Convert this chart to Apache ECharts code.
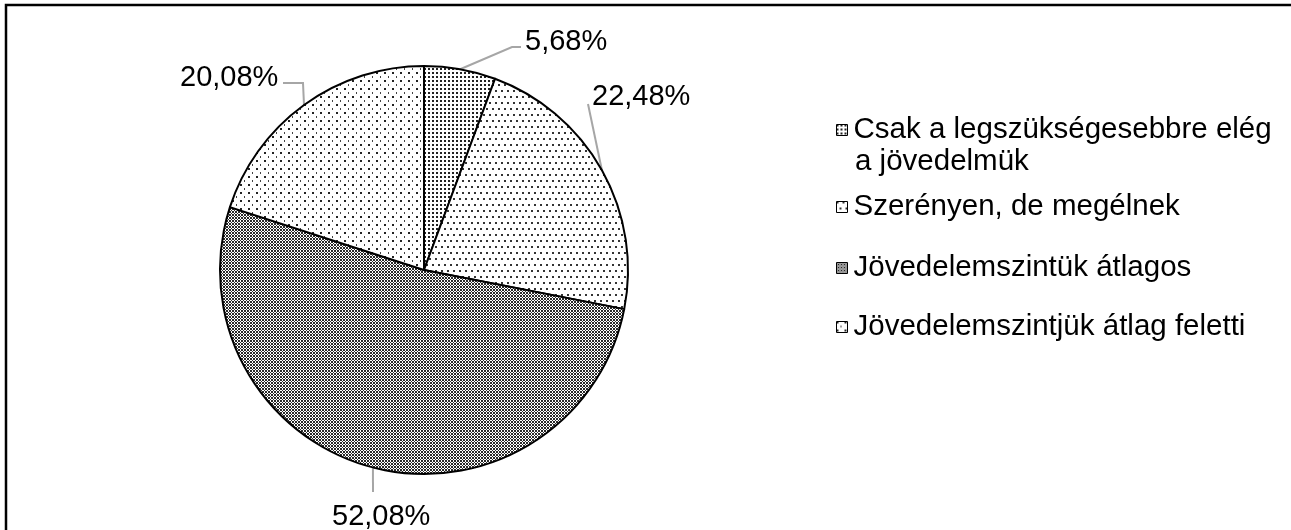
<!DOCTYPE html>
<html>
<head>
<meta charset="utf-8">
<script src="https://cdn.jsdelivr.net/npm/echarts@6/dist/echarts.min.js"></script>
<style>html,body{margin:0;padding:0;background:#fff;}#c{width:1291px;height:530px;}</style>
</head>
<body>
<div id="c"></div>
<script>
const categories = ['Csak a legszükségesebbre elég\na jövedelmük', 'Szerényen, de megélnek', 'Jövedelemszintük átlagos', 'Jövedelemszintjük átlag feletti'];
const values = [5.68, 22.48, 52.08, 20.08];
const labels = ['5,68%', '22,48%', '52,08%', '20,08%'];

// label anchor placement (left edge, vertical middle) in px
const labelPos = [[525, 42], [592, 97], [332, 517], [180, 78]];
// leader line bend / end points after the point on the slice edge
const leaderBends = [[[512, 47], [521, 47]], [[588, 104]], [[373, 492]], [[303, 83], [283, 83]]];
const legendCenters = [130, 207, 268, 327];

const CX = 424, CY = 270, R = 204;

function makePattern(w, h, cells) {
  const c = document.createElement('canvas');
  c.width = w; c.height = h;
  const g = c.getContext('2d');
  g.fillStyle = '#fff'; g.fillRect(0, 0, w, h);
  cells.forEach(([x, y, cw, ch, col]) => { g.fillStyle = col || '#000'; g.fillRect(x, y, cw, ch); });
  return { image: c, repeat: 'repeat' };
}
const p1 = makePattern(4, 4, [[0, 0, 2, 2, '#222']]);
const p2 = makePattern(6, 12, [[0, 0, 2, 2, '#333'], [3, 6, 2, 2, '#333']]);
const p3cells = [];
for (let y = 0; y < 6; y++) for (let x = 0; x < 6; x++) {
  if ((x + y) % 3 === 0 || (x - y + 6) % 3 === 0) p3cells.push([x, y, 1, 1, '#2a2a2a']);
}
const p3 = makePattern(6, 6, p3cells);
const p4 = makePattern(8, 8, [[0, 0, 2, 2, '#222'], [4, 4, 1, 2, '#444']]);
const patterns = [p1, p2, p3, p4];

const total = values.reduce((a, b) => a + b, 0);
const midAngles = [];
let acc = 0;
values.forEach(v => { midAngles.push((90 - (acc + v / 2) / total * 360) * Math.PI / 180); acc += v; });

const chart = echarts.init(document.getElementById('c'));
const font = 'Liberation Sans, Arial, sans-serif';
const FS = 29.5;

const legends = categories.map((name, i) => ({
  data: [name],
  orient: 'vertical',
  left: 836,
  top: legendCenters[i] - 16,
  padding: 0,
  icon: 'rect',
  itemWidth: 11,
  itemHeight: 11,
  itemGap: 8,
  selectedMode: false,
  formatter: n => n.split('\n')[0],
  textStyle: { fontFamily: font, fontSize: FS, color: '#000', lineHeight: 32, padding: [0, 0, 0, 1] },
  itemStyle: { borderColor: '#000', borderWidth: 1 }
}));

chart.setOption({
  animation: false,
  backgroundColor: '#fff',
  legend: legends,
  graphic: [
    { type: 'rect', shape: { x: 6, y: 5, width: 1320, height: 600 }, style: { fill: 'none', stroke: '#000', lineWidth: 2.5 }, silent: true },
    { type: 'text', left: 855, top: legendCenters[0] + 32 - 16, style: { text: categories[0].split('\n')[1], font: FS + 'px ' + font, fill: '#000', lineHeight: 32 } }
  ],
  series: [{
    type: 'pie',
    center: [CX, CY],
    radius: R,
    startAngle: 90,
    clockwise: true,
    data: values.map((v, i) => ({ name: categories[i], value: v, itemStyle: { color: patterns[i] } })),
    itemStyle: { borderColor: '#000', borderWidth: 2 },
    label: {
      show: true,
      position: 'outside',
      formatter: p => labels[p.dataIndex],
      fontFamily: font,
      fontSize: 29,
      color: '#000'
    },
    labelLine: { show: true, lineStyle: { color: '#a6a6a6', width: 2 }, length: 15, length2: 10 },
    labelLayout: p => {
      const i = p.dataIndex;
      const a = midAngles[i];
      const start = [CX + R * Math.cos(a), CY - R * Math.sin(a)];
      return {
        x: labelPos[i][0], y: labelPos[i][1], align: 'left', verticalAlign: 'middle',
        labelLinePoints: [start].concat(leaderBends[i])
      };
    },
    emphasis: { disabled: true }
  }]
});
</script>
</body>
</html>
